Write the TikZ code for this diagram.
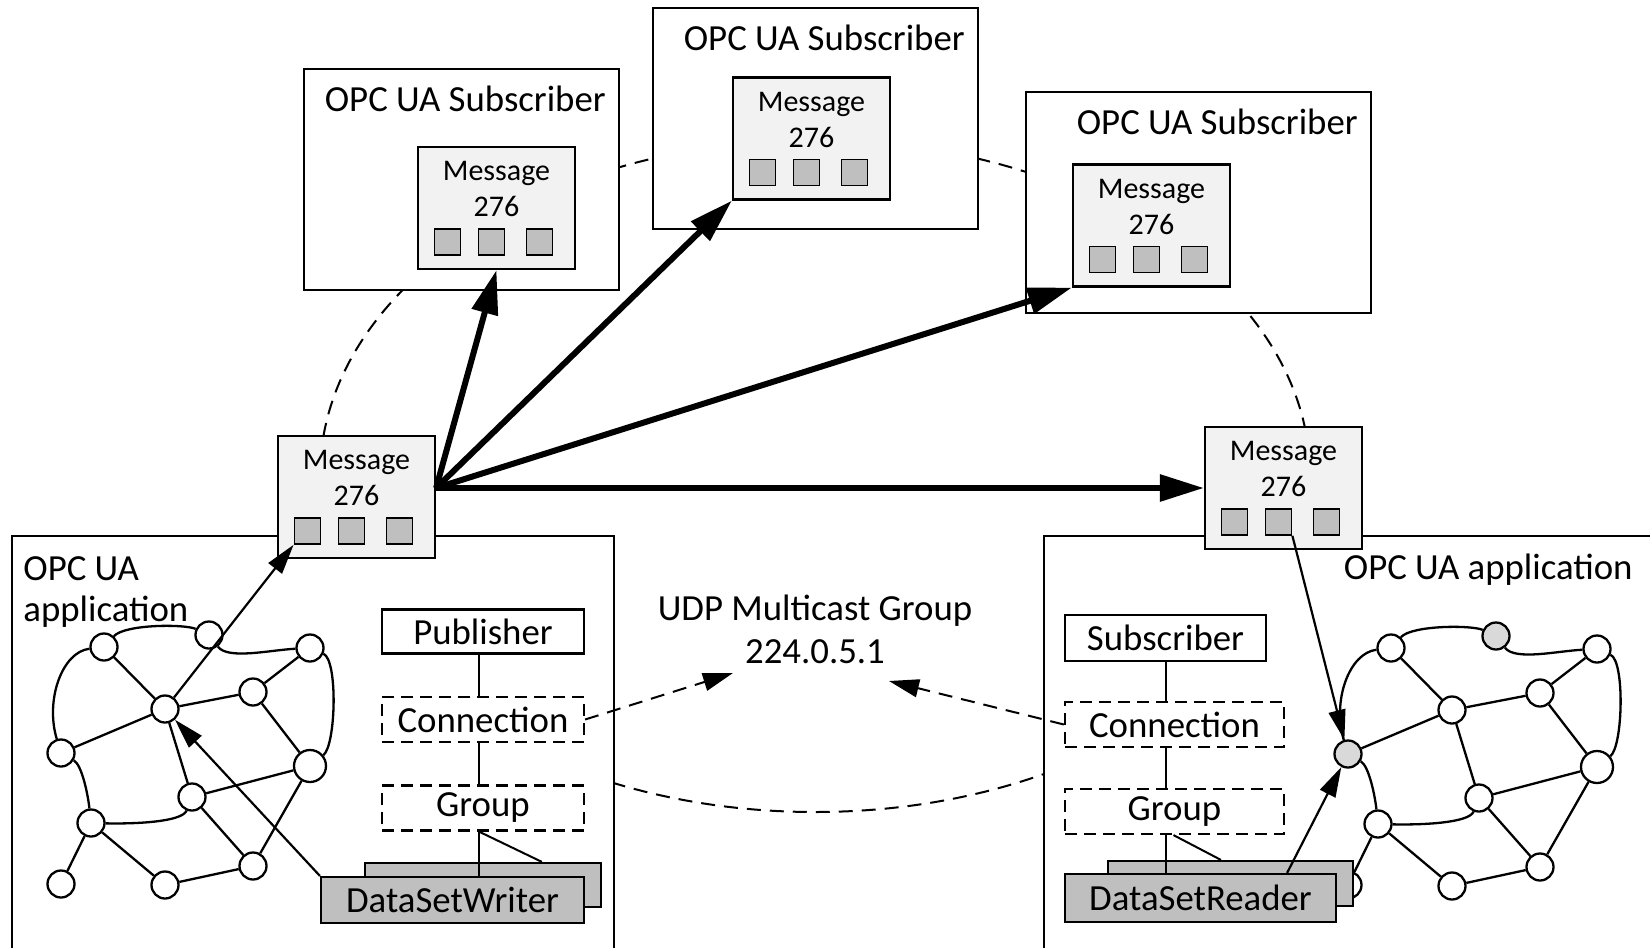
\documentclass[tikz,border=0pt]{standalone}
\usepackage{fontspec}
\setmainfont{Carlito}
\usetikzlibrary{arrows.meta,calc}
\definecolor{msgfill}{HTML}{F2F2F2}
\definecolor{sqfill}{HTML}{BFBFBF}
\definecolor{nodegray}{HTML}{D9D9D9}
\newcommand\mkmsg[2]{%
  \node[msgbox] (#1) at #2 {};
  \node[small,anchor=base] (#1t1) at ($(#1.north)+(0,35)$) {Message};
  \node[small,anchor=base] (#1t2) at ($(#1.north)+(0,71)$) {276};
  \node[sqr] (#1a) at ($(#1.north)+(-49,96)$) {};
  \node[sqr] (#1b) at ($(#1.north)+(-5,96)$) {};
  \node[sqr] (#1c) at ($(#1.north)+(43,96)$) {};
}
\newcommand\mknet[5]{%
\begin{scope}[shift={(#2,#3)}]
 \node[nd] (#1n1) at (104,647) {};
 \node[#4] (#1n2) at (209,635) {};
 \node[nd] (#1n3) at (310,648) {};
 \node[nd] (#1n4) at (253,692) {};
 \node[nd] (#1n5) at (165,709) {};
 \node[#5] (#1n6) at (61,753) {};
 \node[nd,minimum size=16pt] (#1n7) at (310,766) {};
 \node[nd] (#1n8) at (192,797) {};
 \node[nd] (#1n9) at (91,823) {};
 \node[nd] (#1n10) at (61,884) {};
 \node[nd] (#1n11) at (165,885) {};
 \node[nd] (#1n12) at (253,866) {};
 \draw[nl] (#1n1)--(#1n5) (#1n5)--(#1n6) (#1n5)--(#1n4) (#1n4)--(#1n3)
   (#1n4)--(#1n7) (#1n5)--(#1n8) (#1n8)--(#1n7) (#1n8)--(#1n12)
   (#1n7)--(#1n12) (#1n9)--(#1n10) (#1n9)--(#1n11) (#1n11)--(#1n12);
 \draw[nl] (#1n1) .. controls (125,624) and (185,624) .. (#1n2);
 \draw[nl] (#1n2) .. controls (228,660) and (270,650) .. (#1n3);
 \draw[nl] (#1n3) .. controls (338,660) and (336,745) .. (#1n7);
 \draw[nl] (#1n1) .. controls (62,652) and (45,700) .. (#1n6);
 \draw[nl] (#1n6) .. controls (82,765) and (88,795) .. (#1n9);
 \draw[nl] (#1n9) .. controls (135,824) and (182,822) .. (#1n8);
\end{scope}}
\begin{document}
\begin{tikzpicture}[x=0.5pt,y=-0.5pt,
  sz/.style 2 args={minimum width=#1*0.5pt,minimum height=#2*0.5pt},
  frame/.style={draw,line width=1.1pt,fill=white,inner sep=0pt},
  msgbox/.style={draw,line width=1.1pt,fill=msgfill,inner sep=0pt,sz={157}{122}},
  sqr/.style={draw,line width=0.9pt,fill=sqfill,inner sep=0pt,sz={26}{26}},
  big/.style={font=\fontsize{18.4}{22.4}\selectfont,inner sep=0pt},
  small/.style={font=\fontsize{15}{18.3}\selectfont,inner sep=0pt},
  plainbox/.style={frame,big},
  dbox/.style={frame,big,dash pattern=on 6pt off 3.5pt},
  ds/.style={draw,line width=1.1pt,fill=sqfill,inner sep=0pt,big},
  nd/.style={circle,draw,line width=1.15pt,fill=white,minimum size=13.5pt,inner sep=0pt},
  gnd/.style={nd,fill=nodegray},
  ln/.style={line width=1pt},
  nl/.style={line width=1.15pt},
  tarrow/.style={line width=3pt,-{Triangle[length=22pt,width=13pt]}},
  narrow/.style={line width=1.1pt,-{Triangle[length=15pt,width=8.5pt]}},
  darrow/.style={line width=1pt,dash pattern=on 7pt off 4.5pt,-{Triangle[length=15pt,width=9pt]}},
]
\useasboundingbox (0,0) rectangle (1650,948);
\clip (0,0) rectangle (1650,948);

% dashed ellipse behind everything
\draw[ln,dash pattern=on 7pt off 4.5pt] (815,476) ellipse [x radius=495,y radius=336];

% subscriber boxes
\node[frame,sz={315}{221}] (sub1) at (461.5,179.5) {};
\node[big,anchor=base east] (sub1t) at ($(sub1.north east)+(-14,44)$) {OPC UA Subscriber};
\node[frame,sz={325}{221}] (sub2) at (815.5,118.5) {};
\node[big,anchor=base east] (sub2t) at ($(sub2.north east)+(-14,44)$) {OPC UA Subscriber};
\node[frame,sz={345}{221}] (sub3) at (1198.5,202.5) {};
\node[big,anchor=base east] (sub3t) at ($(sub3.north east)+(-14,44)$) {OPC UA Subscriber};

% application boxes
\node[frame,anchor=north west,sz={602}{450}] (appL) at (11,535) {};
\node[frame,anchor=north west,sz={650}{450}] (appR) at (1043,535) {};
\node[big,anchor=base west] (appLt1) at (23,580) {OPC UA};
\node[big,anchor=base west] (appLt2) at (23,621) {application};
\node[big,anchor=base east] (appRt) at (1633,579) {OPC UA application};

% multicast group
\node[big,anchor=base] (udp1) at (815,620) {UDP Multicast Group};
\node[big,anchor=base] (udp2) at (815,663) {224.0.5.1};

% messages
\mkmsg{m1}{(496.5,208)}
\mkmsg{m2}{(811.5,138.5)}
\mkmsg{m3}{(1151.5,225.5)}
\mkmsg{mL}{(356.5,497)}
\mkmsg{mR}{(1283.5,488)}

% networks
\mknet{L}{0}{0}{nd}{nd}
\mknet{R}{1287}{1}{gnd}{gnd}

% publisher side
\node[plainbox,sz={202}{44}] (pub) at (483,631.5) {Publisher};
\node[dbox,sz={202}{45}] (connL) at (483,719.5) {Connection};
\node[dbox,sz={202}{45}] (groupL) at (483,808) {Group};
\node[ds,sz={236}{44}] (dswB) at (483,885) {};
\coordinate (pv) at ($(pub.south)+(-4,0)$);
\draw[ln] (pv) -- (pv |- connL.north);
\draw[ln] (pv |- connL.south) -- (pv |- groupL.north);
\draw[ln] (pv |- groupL.south) -- (pv |- 0,877);
\coordinate (dL) at ($(dswB.north west)+(178,0)$);
\draw[ln] (pv |- groupL.south) -- (dL);
\node[ds,sz={263}{46}] (dswF) at (452.5,900) {DataSetWriter};

% subscriber side
\node[plainbox,sz={201}{46}] (subR) at (1165.5,638) {Subscriber};
\node[dbox,sz={219}{45}] (connR) at (1174.5,724.5) {Connection};
\node[dbox,sz={219}{45}] (groupR) at (1174.5,811.5) {Group};
\node[ds,sz={245}{45}] (dsrB) at (1230.5,883.5) {};
\draw[ln] (subR.south) -- (subR.south |- connR.north);
\draw[ln] (subR.south |- connR.south) -- (subR.south |- groupR.north);
\draw[ln] (subR.south |- groupR.south) -- (subR.south |- 0,874);
\coordinate (dRs) at ($(subR.south |- groupR.south)+(8,0)$);
\coordinate (dR) at ($(dsrB.north west)+(114,0)$);
\draw[ln] (dRs) -- (dR);
\node[ds,sz={271}{48}] (dsrF) at (1200.5,898) {DataSetReader};

% thick arrows
\coordinate (src) at ($(mL.east)+(0,-9)$);
\draw[tarrow] (src) -- (m1.south);
\draw[tarrow] (src) -- (m2.south west);
\draw[tarrow] (src) -- (m3.south west);
\draw[tarrow] (src) -- (mR.west);

% thin arrows
\draw[narrow] (Ln5) -- (mLa.south west);
\draw[narrow] (dswF.north west) -- (Ln5);
\draw[narrow] (mRb.south east) -- (Rn6);
\coordinate (dsrS) at ($(dsrF.north east)+(-50,0)$);
\draw[narrow] (dsrS) -- (Rn6);

% dashed arrows
\coordinate (udpL) at (733,673);
\coordinate (udpR) at (889,681);
\draw[darrow] (connL.east) -- (udpL);
\draw[darrow] (connR.west) -- (udpR);
\end{tikzpicture}
\end{document}
